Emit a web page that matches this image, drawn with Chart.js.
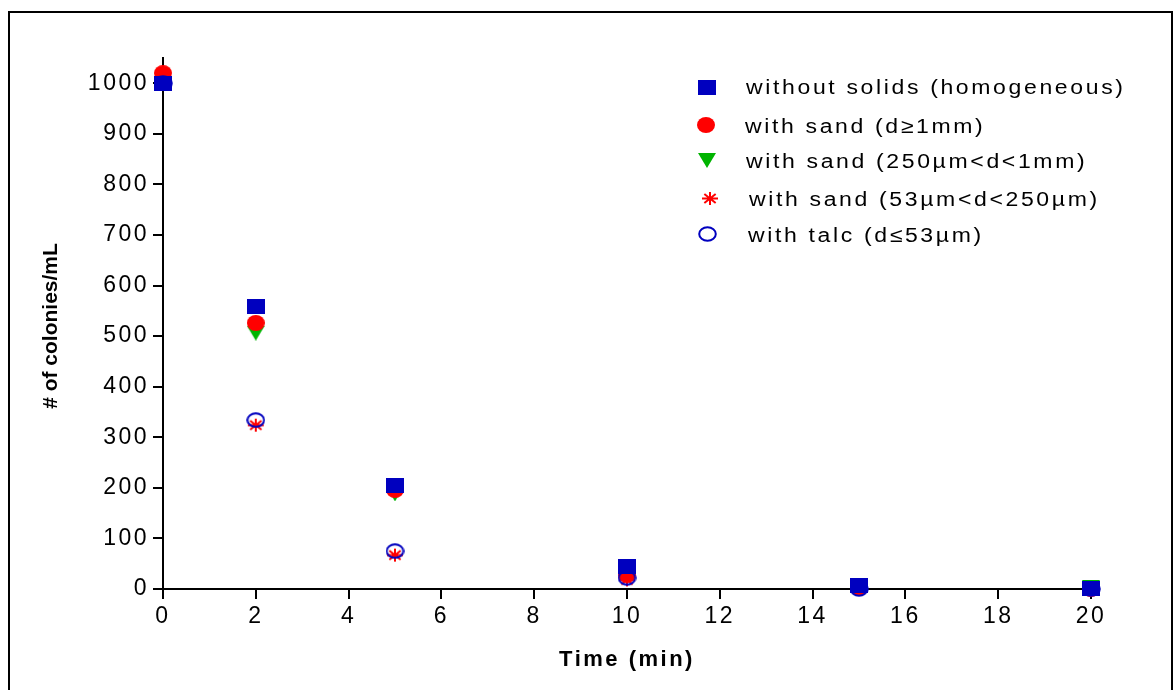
<!DOCTYPE html>
<html>
<head>
<meta charset="utf-8">
<title>Colonies vs time</title>
<script src="https://cdn.jsdelivr.net/npm/chart.js@4.4.1/dist/chart.umd.min.js"></script>
<style>
  body { margin: 0; background: #fff; }
  #wrap { position: relative; width: 1174px; height: 690px; overflow: hidden; }
  #frame { position: absolute; left: 8px; top: 11px; width: 1161px; height: 700px;
           border: 2px solid #000; border-bottom: none; }
  #chart { position: absolute; left: 0; top: 0; }
</style>
</head>
<body>
<div id="wrap">
  <div id="frame"></div>
  <canvas id="chart" width="1174" height="690"></canvas>
</div>
<script>
// sampling times (min)
const times = [0, 2, 5, 10, 15, 20];

// colonies/mL for each suspension
const withoutSolids = [1000, 558, 204, 45, 6, 1];
const sandCoarse    = [1020, 526, 196, 28, 2, 0];
const sandMedium    = [1000, 506, 188, 30, 1, 3];
const sandFine      = [998, 324, 67, 18, 0, 0];
const talc          = [1000, 334, 75, 22, 0, 0];

const seriesNames = [
  'without solids (homogeneous)',
  'with sand (d\u22651mm)',
  'with sand (250\u00b5m<d<1mm)',
  'with sand (53\u00b5m<d<250\u00b5m)',
  'with talc (d\u226453\u00b5m)'
];

const xTicks = [0, 2, 4, 6, 8, 10, 12, 14, 16, 18, 20];
const yTicks = [0, 100, 200, 300, 400, 500, 600, 700, 800, 900, 1000];

const BLUE = '#0000bf';
const RED = '#ff0000';
const GREEN = '#00b400';
const FONT = '"Liberation Sans", Arial, sans-serif';

// small offscreen canvases used as point styles
function marker(w, h, paint) {
  const c = document.createElement('canvas');
  c.width = w; c.height = h;
  paint(c.getContext('2d'), w, h);
  return c;
}
const squareMark = marker(18, 15, (g, w, h) => { g.fillStyle = BLUE; g.fillRect(0, 0, w, h); });
const dotMark = marker(18, 16, (g, w, h) => {
  g.fillStyle = RED; g.beginPath(); g.ellipse(w / 2, h / 2, w / 2, h / 2, 0, 0, Math.PI * 2); g.fill();
});
const triMark = marker(18, 15, (g, w, h) => {
  g.fillStyle = GREEN; g.beginPath(); g.moveTo(0, 0); g.lineTo(w, 0); g.lineTo(w / 2, h); g.closePath(); g.fill();
});
const starMark = marker(18, 15, (g, w, h) => {
  g.strokeStyle = RED; g.lineWidth = 2; g.beginPath();
  const cx = w / 2, cy = h / 2, rx = w / 2 - 1, ry = h / 2 - 1;
  for (let i = 0; i < 4; i++) {
    const a = i * Math.PI / 4;
    g.moveTo(cx - rx * Math.cos(a), cy - ry * Math.sin(a));
    g.lineTo(cx + rx * Math.cos(a), cy + ry * Math.sin(a));
  }
  g.stroke();
});
const ringMark = marker(19, 16, (g, w, h) => {
  g.strokeStyle = BLUE; g.lineWidth = 2; g.beginPath();
  g.ellipse(w / 2, h / 2, w / 2 - 1.2, h / 2 - 1.2, 0, 0, Math.PI * 2); g.stroke();
});

const seriesValues = [withoutSolids, sandCoarse, sandMedium, sandFine, talc];
const seriesMarks = [squareMark, dotMark, triMark, starMark, ringMark];
const drawOrder = [0, 3, 4, 2, 1];

const datasets = seriesValues.map((vals, i) => ({
  label: seriesNames[i],
  data: times.map((t, j) => ({ x: t, y: vals[j] })),
  pointStyle: seriesMarks[i],
  pointRadius: 9,
  pointHoverRadius: 9,
  showLine: false,
  clip: false,
  order: drawOrder[i]
}));

// letter spaced text, drawn like the original plotting program
const spacing = {
  id: 'spacing',
  beforeLayout(chart) { chart.ctx.letterSpacing = '2.5px'; },
  beforeDraw(chart) { chart.ctx.letterSpacing = '2.5px'; }
};

// y title and legend block
const extras = {
  id: 'extras',
  afterDraw(chart) {
    const ctx = chart.ctx;
    ctx.save();
    ctx.letterSpacing = '0px';
    ctx.fillStyle = '#000';
    ctx.font = 'bold 21px ' + FONT;
    ctx.textAlign = 'center';
    ctx.textBaseline = 'middle';
    ctx.translate(51, 326);
    ctx.rotate(-Math.PI / 2);
    ctx.fillText('# of colonies/mL', 0, 0);
    ctx.restore();

    const rows = [
      { mx: 707, my: 87, tx: 746, ty: 88 },
      { mx: 706, my: 125, tx: 745, ty: 127 },
      { mx: 707, my: 160, tx: 746, ty: 162 },
      { mx: 710, my: 198, tx: 749, ty: 200 },
      { mx: 707, my: 234, tx: 748, ty: 236 }
    ];
    rows.forEach((r, i) => {
      const m = seriesMarks[i];
      ctx.drawImage(m, Math.round(r.mx - m.width / 2), Math.round(r.my - m.height / 2));
      // legend text is a little wider than the plain font
      ctx.save();
      ctx.letterSpacing = '2.3px';
      ctx.font = '20px ' + FONT;
      ctx.fillStyle = '#000';
      ctx.textAlign = 'left';
      ctx.textBaseline = 'middle';
      ctx.translate(r.tx, r.ty);
      ctx.scale(1.15, 1);
      ctx.fillText(seriesNames[i], 0, 0);
      ctx.restore();
    });
  }
};

const axisLine = { display: true, color: '#000', width: 2 };
const tickMarks = { display: true, drawOnChartArea: false, drawTicks: true, tickLength: 10, color: '#000', lineWidth: 2 };
const tickFont = { family: FONT, size: 23 };

new Chart(document.getElementById('chart'), {
  type: 'scatter',
  data: { datasets: datasets },
  plugins: [spacing, extras],
  options: {
    responsive: false,
    animation: false,
    events: [],
    layout: { padding: { top: 58, right: 83, left: 0, bottom: 0 } },
    plugins: { legend: { display: false }, tooltip: { enabled: false } },
    scales: {
      x: {
        type: 'linear',
        min: 0,
        max: 20,
        border: axisLine,
        grid: tickMarks,
        afterBuildTicks: s => { s.ticks = xTicks.map(v => ({ value: v })); },
        afterFit: s => { s.height = 101; },
        ticks: { color: '#000', font: tickFont, padding: 4, maxRotation: 0, callback: v => String(v) },
        title: {
          display: true,
          text: 'Time (min)',
          color: '#000',
          font: { family: FONT, size: 22, weight: 'bold' },
          padding: { top: 0, bottom: 17 }
        }
      },
      y: {
        type: 'linear',
        min: 0,
        max: 1050,
        border: axisLine,
        grid: tickMarks,
        afterBuildTicks: s => { s.ticks = yTicks.map(v => ({ value: v })); },
        afterFit: s => { s.width = 163; },
        ticks: { color: '#000', font: tickFont, padding: 4, callback: v => String(v) }
      }
    }
  }
});
</script>
</body>
</html>
